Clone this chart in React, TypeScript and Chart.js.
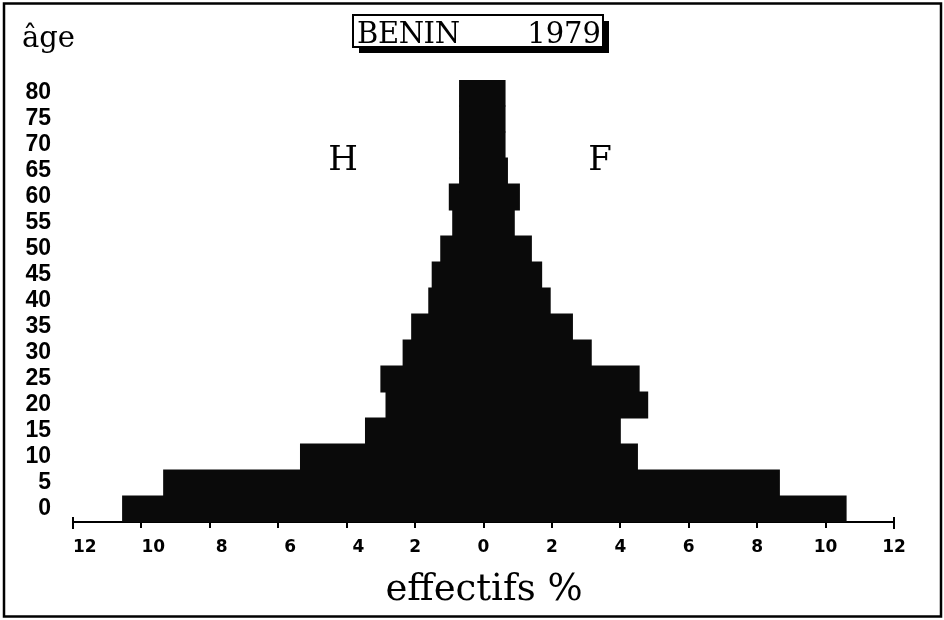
import React, { useEffect, useRef } from 'react';
import { Chart, registerables } from 'chart.js';

Chart.register(...registerables);

// Age groups (bottom to top)
const AGES = ['0', '5', '10', '15', '20', '25', '30', '35', '40', '45', '50', '55', '60', '65', '70', '75', '80'];
// Hommes (%)
const MALE = [10.55, 9.35, 5.35, 3.45, 2.85, 3.0, 2.35, 2.1, 1.6, 1.5, 1.25, 0.9, 1.0, 0.7, 0.7, 0.7, 0.7];
// Femmes (%)
const FEMALE = [10.6, 8.65, 4.5, 4.0, 4.8, 4.55, 3.15, 2.6, 1.95, 1.7, 1.4, 0.9, 1.05, 0.7, 0.63, 0.63, 0.63];

const TITLE_COUNTRY = 'BENIN';
const TITLE_YEAR = '1979';
const Y_TITLE = 'âge';
const X_TITLE = 'effectifs %';
const LABEL_MEN = 'H';
const LABEL_WOMEN = 'F';
const X_MIN = -12;
const X_MAX = 12;
const X_STEP = 2;

function fitText(ctx: CanvasRenderingContext2D, text: string, target: number) {
  (ctx as any).letterSpacing = '0px';
  const w = ctx.measureText(text).width;
  const sp = (target - w) / Math.max(1, text.length - 1);
  (ctx as any).letterSpacing = `${sp}px`;
}

const overlay = {
  id: 'overlay',
  beforeDraw(chart: any) {
    const { ctx, width, height } = chart;
    ctx.save();
    ctx.fillStyle = '#fff';
    ctx.fillRect(0, 0, width, height);
    ctx.restore();
  },
  afterDraw(chart: any) {
    const { ctx } = chart;
    const xs = chart.scales.x;
    ctx.save();
    // outer frame
    ctx.strokeStyle = '#000';
    ctx.lineWidth = 2.5;
    ctx.strokeRect(4, 3.5, 937, 613);

    // title box with shadow
    ctx.fillStyle = '#000';
    ctx.fillRect(359, 21, 250, 32);
    ctx.fillStyle = '#fff';
    ctx.fillRect(353, 15, 250, 32);
    ctx.lineWidth = 2;
    ctx.strokeRect(353, 15, 250, 32);

    ctx.fillStyle = '#000';
    ctx.textBaseline = 'alphabetic';
    ctx.font = '29px "DejaVu Serif"';
    ctx.textAlign = 'left';
    fitText(ctx, TITLE_COUNTRY, 103);
    ctx.fillText(TITLE_COUNTRY, 357, 43);
    (ctx as any).letterSpacing = '0px';
    ctx.textAlign = 'right';
    ctx.fillText(TITLE_YEAR, 601, 43);

    // âge
    ctx.textAlign = 'left';
    ctx.font = '29px "DejaVu Serif"';
    ctx.fillText(Y_TITLE, 22, 47);

    // H / F
    ctx.textAlign = 'center';
    ctx.font = '34px "DejaVu Serif"';
    ctx.fillText(LABEL_MEN, 343, 170);
    ctx.fillText(LABEL_WOMEN, 600, 170);

    // x title
    ctx.font = '37px "DejaVu Serif"';
    ctx.fillText(X_TITLE, 484, 600);

    // x-axis tick marks (from the scale's own ticks) and end caps
    const yAxis = chart.chartArea.bottom;
    ctx.strokeStyle = '#000';
    ctx.lineWidth = 2;
    xs.ticks.forEach((t: any) => {
      const px = Math.round(xs.getPixelForValue(t.value));
      const isEnd = t.value === X_MIN || t.value === X_MAX;
      ctx.beginPath();
      ctx.moveTo(px, isEnd ? yAxis - 5 : yAxis);
      ctx.lineTo(px, yAxis + (isEnd ? 7 : 6));
      ctx.stroke();
    });
    ctx.restore();
  },
};

export default function App() {
  const ref = useRef<HTMLCanvasElement | null>(null);

  useEffect(() => {
    if (!ref.current) return;
    const chart = new Chart(ref.current, {
      type: 'bar',
      data: {
        labels: AGES,
        datasets: [
          {
            label: LABEL_MEN,
            data: MALE.map((v) => -v),
            backgroundColor: '#0a0a0a',
            borderWidth: 0,
            inflateAmount: 0.5,
            barPercentage: 1,
            categoryPercentage: 1,
          },
          {
            label: LABEL_WOMEN,
            data: FEMALE,
            backgroundColor: '#0a0a0a',
            borderWidth: 0,
            inflateAmount: 0.5,
            barPercentage: 1,
            categoryPercentage: 1,
          },
        ],
      },
      options: {
        indexAxis: 'y',
        responsive: false,
        animation: false,
        devicePixelRatio: 1,
        layout: { padding: { top: 80, right: 50, bottom: 0, left: 0 } },
        plugins: {
          legend: { display: false },
          tooltip: { enabled: false },
          title: { display: false },
        },
        scales: {
          x: {
            type: 'linear',
            min: X_MIN,
            max: X_MAX,
            stacked: true,
            afterFit: (s: any) => {
              s.height = 98;
            },
            grid: { display: false },
            border: { display: true, color: '#000', width: 2 },
            ticks: {
              stepSize: X_STEP,
              color: '#000',
              padding: 7,
              font: { family: '"DejaVu Sans"', weight: 'bold', size: 17 },
              callback: (v: any) => {
                const a = Math.abs(Number(v));
                return Number(v) <= -4 ? '\u2007\u2007' + a : String(a);
              },
            },
          },
          y: {
            type: 'category',
            reverse: true,
            stacked: true,
            afterFit: (s: any) => {
              s.width = 73;
            },
            grid: { display: false },
            border: { display: false },
            ticks: {
              autoSkip: false,
              color: '#000',
              padding: 14,
              font: { family: '"Liberation Sans"', weight: 'bold', size: 23 },
            },
          },
        },
      },
      plugins: [overlay],
    } as any);
    return () => chart.destroy();
  }, []);

  return (
    <div style={{ position: 'absolute', left: 0, top: 0, width: 944, height: 620, background: '#fff' }}>
      <canvas ref={ref} width={944} height={620} style={{ display: 'block' }} />
    </div>
  );
}
